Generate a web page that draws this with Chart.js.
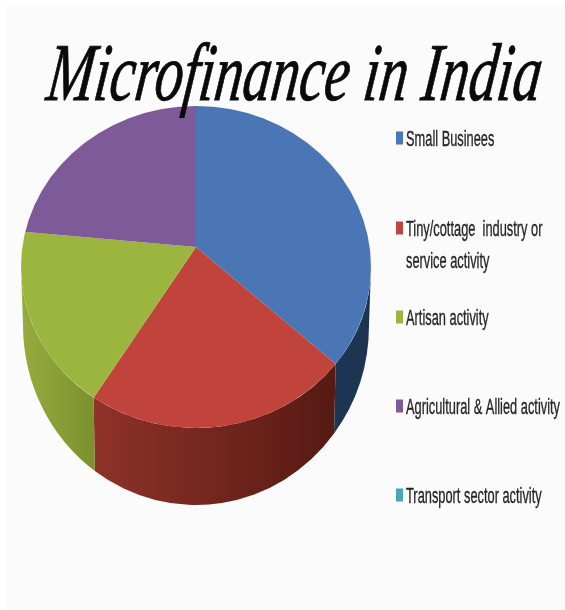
<!DOCTYPE html>
<html>
<head>
<meta charset="utf-8">
<style>
  html, body { margin: 0; padding: 0; background: #ffffff; }
  canvas { display: block; }
</style>
<script src="https://cdn.jsdelivr.net/npm/chart.js@4"></script>
</head>
<body>
<canvas id="pie" width="565" height="610"></canvas>
<script>
const chartTitle = 'Microfinance in India';
const categories = ['Small Businees', 'Tiny/cottage industry or service activity', 'Artisan activity', 'Agricultural & Allied activity', 'Transport sector activity'];
const legendLines = [['Small Businees'], ['Tiny/cottage  industry or', 'service activity'], ['Artisan activity'], ['Agricultural & Allied activity'], ['Transport sector activity']];
const shares = [36.1, 23.4, 16.9, 23.6, 0];
const sliceColors = ['#4a76b5', '#c0443c', '#9cb53e', '#7f5a98', '#46a5bd'];
const wallColors = [['#1c3653', '#1c3450'], ['#8f3229', '#551a13'], ['#97ac3e', '#7b912f'], ['#5f4374', '#5f4374'], ['#35808f', '#35808f']];

// Tilted-disc outline: top face and the smaller, lower rim of the base.
const topFace = { cx: 196, cy: 267, rx: 175, ry: 161 };
const baseRim = { cx: 196, cy: 325, rx: 173, ry: 180 };
const legendRows = [138, 228, 317, 406, 495];
const legendLineGap = 32;

function rayAngleOnFace(apexX, apexY, angle, face) {
  // Intersect a ray from the pie centre with the face ellipse; returns the ellipse parameter.
  const c = Math.cos(angle), s = Math.sin(angle);
  const ox = (apexX - face.cx) / face.rx, oy = (apexY - face.cy) / face.ry;
  const dx = c / face.rx, dy = s / face.ry;
  const a = dx * dx + dy * dy, b = 2 * (ox * dx + oy * dy), k = ox * ox + oy * oy - 1;
  const d = (-b + Math.sqrt(b * b - 4 * a * k)) / (2 * a);
  return Math.atan2(oy + d * dy, ox + d * dx);
}

const tiltedPie = {
  id: 'tiltedPie',
  beforeDraw(chart) {
    const { ctx } = chart;
    ctx.save();
    ctx.fillStyle = '#fbfbfb';
    ctx.fillRect(7, 5, 558, 605);
    ctx.restore();
  },
  beforeDatasetsDraw(chart) {
    const { ctx } = chart;
    const meta = chart.getDatasetMeta(0);

    // Side walls, built from the slice angles the controller computed.
    meta.data.forEach((arc, i) => {
      if (arc.endAngle - arc.startAngle <= 0) return;
      let t1 = rayAngleOnFace(arc.x, arc.y, arc.startAngle, topFace);
      let t2 = rayAngleOnFace(arc.x, arc.y, arc.endAngle, topFace);
      if (t2 < t1) t2 += Math.PI * 2;
      t1 = Math.max(t1, 0);
      t2 = Math.min(t2, Math.PI);
      if (t2 <= t1) return;
      const xa = topFace.cx + topFace.rx * Math.cos(t1);
      const xb = topFace.cx + topFace.rx * Math.cos(t2);
      const grad = ctx.createLinearGradient(Math.min(xa, xb), 0, Math.max(xa, xb), 0);
      // Shading runs left to right along the wall.
      grad.addColorStop(0, wallColors[i][0]);
      grad.addColorStop(1, wallColors[i][1]);
      ctx.save();
      ctx.beginPath();
      ctx.ellipse(topFace.cx, topFace.cy, topFace.rx, topFace.ry, 0, t1, t2);
      ctx.ellipse(baseRim.cx, baseRim.cy, baseRim.rx, baseRim.ry, 0, t2, t1, true);
      ctx.closePath();
      ctx.fillStyle = grad;
      ctx.fill();
      ctx.restore();
    });

    // Top face: the library's arcs, trimmed to the tilted outline.
    ctx.save();
    ctx.beginPath();
    ctx.ellipse(topFace.cx, topFace.cy, topFace.rx, topFace.ry, 0, 0, Math.PI * 2);
    ctx.clip();
    meta.controller.draw();
    ctx.restore();
    return false;
  },
  afterDraw(chart) {
    const { ctx } = chart;
    ctx.save();
    ctx.textBaseline = 'alphabetic';
    ctx.textAlign = 'left';

    // Heading, slanted a little further and fitted to its slot.
    ctx.font = 'italic 82px "Liberation Serif"';
    ctx.fillStyle = '#0a0a0a';
    ctx.strokeStyle = '#0a0a0a';
    ctx.lineWidth = 0.9;
    const titleWidth = ctx.measureText(chartTitle).width;
    ctx.save();
    ctx.transform(494 / titleWidth, 0, -0.12, 1, 45, 100);
    ctx.fillText(chartTitle, 0, 0);
    ctx.strokeText(chartTitle, 0, 0);
    ctx.restore();

    // Legend column.
    ctx.font = '22px "Liberation Sans Narrow", "Liberation Sans"';
    const reference = ctx.measureText(legendLines[3][0]).width;
    const squeeze = 154 / reference;
    ctx.strokeStyle = '#262626';
    ctx.lineWidth = 0.35;
    legendLines.forEach((lines, i) => {
      const y = legendRows[i];
      ctx.fillStyle = sliceColors[i];
      ctx.fillRect(396, y - 6.5, 7, 13);
      ctx.fillStyle = '#262626';
      lines.forEach((line, j) => {
        ctx.save();
        ctx.translate(406, y + 8 + j * legendLineGap);
        ctx.scale(squeeze, 1);
        ctx.fillText(line, 0, 0);
        ctx.strokeText(line, 0, 0);
        ctx.restore();
      });
    });
    ctx.restore();
  }
};

new Chart(document.getElementById('pie'), {
  type: 'pie',
  data: {
    labels: categories,
    datasets: [{ data: shares, backgroundColor: sliceColors, borderWidth: 0 }]
  },
  options: {
    responsive: false,
    animation: false,
    radius: 210,
    layout: { padding: { left: 21, right: 194, top: 72, bottom: 188 } },
    plugins: { legend: { display: false }, title: { display: false }, tooltip: { enabled: false } }
  },
  plugins: [tiltedPie]
});
</script>
</body>
</html>
